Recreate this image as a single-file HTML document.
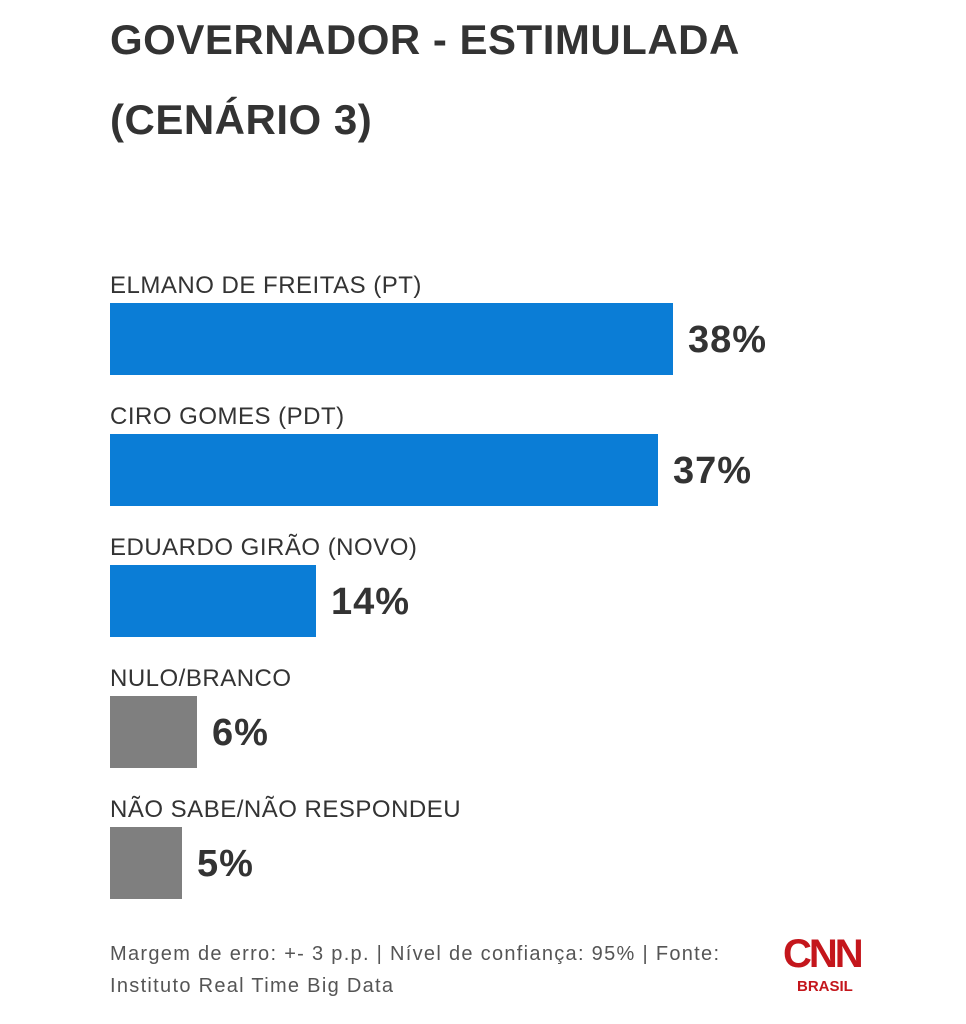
<!DOCTYPE html>
<html><head><meta charset="utf-8"><style>
body{margin:0;width:966px;height:1024px;background:#fff;position:relative;overflow:hidden;font-family:"Liberation Sans",sans-serif;color:#333}
.t{position:absolute;left:110px;font-weight:bold;font-size:42px;letter-spacing:0.5px;color:#333}
.l{position:absolute;left:110px;font-size:24px;letter-spacing:0.5px;color:#333}
.b{position:absolute;left:110px;height:72px}
.v{position:absolute;font-weight:bold;font-size:38px;letter-spacing:1px;color:#333}
.f{position:absolute;left:110px;font-size:20px;letter-spacing:1.3px;color:#555}
</style></head><body>
<div class="t" style="top:16px">GOVERNADOR - ESTIMULADA</div>
<div class="t" style="top:96px">(CENÁRIO 3)</div>

<div class="l" style="top:272px">ELMANO DE FREITAS (PT)</div>
<div class="b" style="top:303px;width:563px;background:#0b7dd6"></div>
<div class="v" style="top:319px;left:688px">38%</div>

<div class="l" style="top:403px">CIRO GOMES (PDT)</div>
<div class="b" style="top:434px;width:548px;background:#0b7dd6"></div>
<div class="v" style="top:450px;left:673px">37%</div>

<div class="l" style="top:534px">EDUARDO GIRÃO (NOVO)</div>
<div class="b" style="top:565px;width:206px;background:#0b7dd6"></div>
<div class="v" style="top:581px;left:331px">14%</div>

<div class="l" style="top:665px">NULO/BRANCO</div>
<div class="b" style="top:696px;width:87px;background:#7f7f7f"></div>
<div class="v" style="top:712px;left:212px">6%</div>

<div class="l" style="top:796px">NÃO SABE/NÃO RESPONDEU</div>
<div class="b" style="top:827px;width:72px;background:#7f7f7f"></div>
<div class="v" style="top:843px;left:197px">5%</div>

<div class="f" style="top:943px">Margem de erro: +- 3 p.p. | Nível de confiança: 95% | Fonte:</div>
<div class="f" style="top:975px">Instituto Real Time Big Data</div>

<div style="position:absolute;left:783px;top:932px;width:86px;font-weight:bold;font-size:40px;color:#c4161c;letter-spacing:-3px;line-height:44px">CNN</div>
<div style="position:absolute;left:797px;top:978px;font-weight:bold;font-size:15px;color:#c4161c">BRASIL</div>
</body></html>
